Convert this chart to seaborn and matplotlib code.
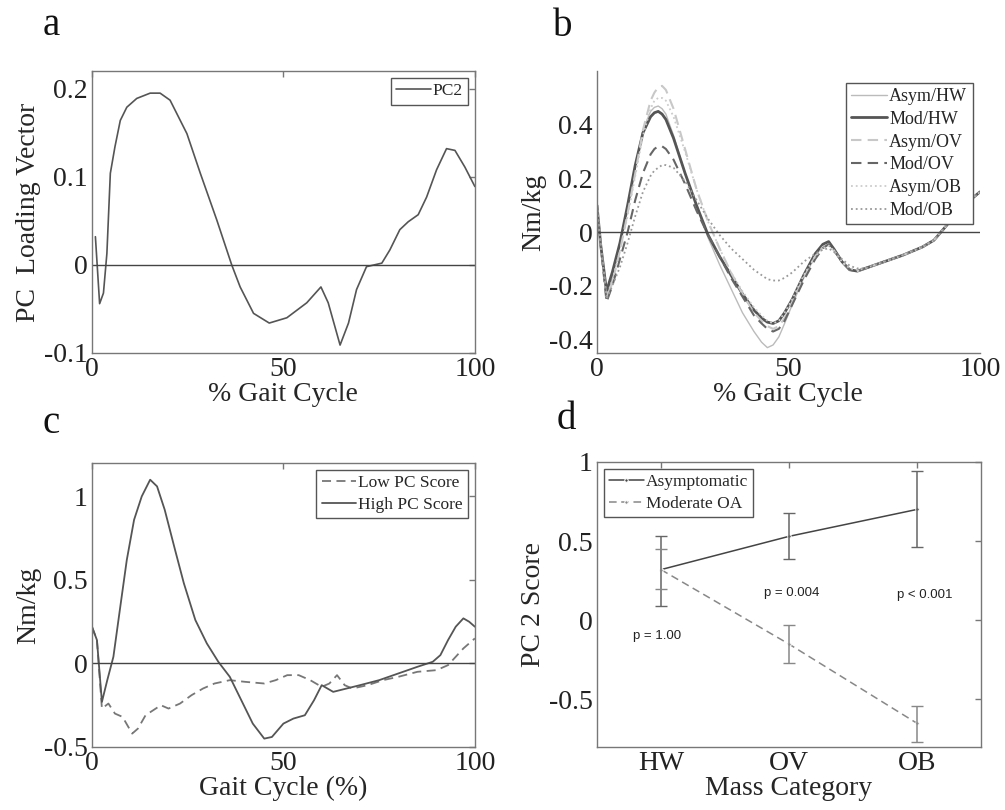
import matplotlib
matplotlib.use("Agg")
import matplotlib.pyplot as plt
import seaborn as sns
import numpy as np

# panel a: PC2 loading vector
xa = [0.9, 2, 3, 3.9, 4.8, 6, 7.4, 9.1, 11.7, 15.2, 17.8, 20.4, 24.8, 28.3, 32.6, 36.5, 38.7,
      42.2, 46.3, 50.9, 56.1, 59.8, 61.7, 64.8, 67, 69.1, 71.7, 75.7, 77.8, 80.4, 82.6, 85.2,
      87.4, 90, 92.6, 94.8, 97.4, 100]
pc2 = [0.032, -0.044, -0.032, 0.013, 0.104, 0.134, 0.164, 0.179, 0.189, 0.195, 0.195, 0.187,
       0.149, 0.104, 0.051, 0.0, -0.025, -0.055, -0.066, -0.060, -0.043, -0.025, -0.043, -0.091,
       -0.066, -0.028, -0.002, 0.002, 0.017, 0.040, 0.049, 0.057, 0.077, 0.108, 0.132, 0.130,
       0.111, 0.089]

# panel b: moment curves by group
xb = [0, 1, 2.5, 4, 6, 8, 10, 12, 14, 15, 16, 17, 18, 20, 23, 26, 29, 32, 35, 38, 41, 43,
      44.5, 46, 47.5, 49, 51, 54, 57, 59, 60.5, 62, 64, 66, 68, 70, 75, 80, 85, 88, 91, 95, 100]
asym_hw = [0.10, -0.05, -0.24, -0.17, -0.05, 0.08, 0.24, 0.38, 0.45, 0.465, 0.47, 0.46, 0.44,
           0.36, 0.22, 0.10, -0.02, -0.12, -0.21, -0.30, -0.37, -0.41, -0.43, -0.42, -0.39,
           -0.34, -0.27, -0.17, -0.09, -0.05, -0.04, -0.07, -0.11, -0.14, -0.145, -0.135,
           -0.11, -0.085, -0.055, -0.03, 0.02, 0.09, 0.15]
mod_hw = [0.10, -0.05, -0.22, -0.15, -0.04, 0.10, 0.25, 0.37, 0.43, 0.445, 0.45, 0.44, 0.42,
          0.35, 0.22, 0.10, -0.01, -0.09, -0.16, -0.23, -0.29, -0.32, -0.335, -0.34, -0.33,
          -0.30, -0.25, -0.16, -0.08, -0.045, -0.035, -0.065, -0.11, -0.14, -0.145, -0.135,
          -0.11, -0.085, -0.055, -0.03, 0.02, 0.09, 0.15]
asym_ov = [0.10, -0.05, -0.25, -0.19, -0.07, 0.07, 0.22, 0.38, 0.49, 0.52, 0.54, 0.545, 0.53,
           0.46, 0.31, 0.16, 0.04, -0.06, -0.15, -0.23, -0.30, -0.33, -0.35, -0.36, -0.35,
           -0.32, -0.26, -0.17, -0.09, -0.055, -0.045, -0.07, -0.11, -0.14, -0.145, -0.135,
           -0.11, -0.085, -0.055, -0.03, 0.02, 0.09, 0.15]
mod_ov = [0.10, -0.05, -0.26, -0.20, -0.10, 0.00, 0.12, 0.22, 0.29, 0.31, 0.32, 0.32, 0.31,
          0.27, 0.18, 0.08, -0.01, -0.09, -0.17, -0.24, -0.31, -0.34, -0.36, -0.37, -0.36,
          -0.33, -0.27, -0.18, -0.10, -0.06, -0.045, -0.07, -0.11, -0.14, -0.145, -0.135,
          -0.11, -0.085, -0.055, -0.03, 0.02, 0.09, 0.15]
asym_ob = [0.10, -0.05, -0.24, -0.18, -0.07, 0.06, 0.21, 0.36, 0.46, 0.49, 0.50, 0.50, 0.49,
           0.43, 0.30, 0.16, 0.04, -0.06, -0.15, -0.22, -0.28, -0.31, -0.33, -0.34, -0.33,
           -0.30, -0.25, -0.16, -0.09, -0.06, -0.05, -0.07, -0.11, -0.135, -0.14, -0.135,
           -0.11, -0.085, -0.055, -0.03, 0.02, 0.09, 0.15]
mod_ob = [0.10, -0.05, -0.25, -0.20, -0.13, -0.04, 0.06, 0.15, 0.21, 0.23, 0.24, 0.25, 0.25,
          0.24, 0.19, 0.12, 0.05, -0.01, -0.06, -0.10, -0.14, -0.16, -0.175, -0.18, -0.18,
          -0.17, -0.15, -0.11, -0.08, -0.065, -0.06, -0.075, -0.10, -0.125, -0.135, -0.135,
          -0.11, -0.085, -0.055, -0.03, 0.02, 0.09, 0.15]

# panel c: low vs high PC score
xc_high = [0, 1.3, 2.6, 4, 5.6, 7.4, 9.1, 11, 13, 15.2, 17, 19, 21.7, 24, 27, 30, 33, 36, 39,
           42, 45, 47, 50, 52.6, 55.6, 58, 60, 63, 70, 75, 80, 85, 89, 91, 93, 95, 97, 98.5, 100]
high_pc = [0.22, 0.14, -0.23, -0.10, 0.04, 0.34, 0.62, 0.86, 1.00, 1.10, 1.06, 0.92, 0.68,
           0.48, 0.26, 0.12, 0.01, -0.08, -0.22, -0.36, -0.45, -0.44, -0.36, -0.33, -0.31,
           -0.22, -0.13, -0.17, -0.13, -0.10, -0.06, -0.02, 0.01, 0.05, 0.14, 0.22, 0.27,
           0.25, 0.22]
xc_low = [0, 1.3, 2.6, 4.3, 6, 8, 10.5, 12, 14, 16, 18, 20, 23, 26, 29, 32, 36, 40, 45, 48,
          51, 54, 57, 60, 62, 64, 66, 68, 72, 76, 80, 85, 90, 93, 95, 97, 100]
low_pc = [0.22, 0.14, -0.27, -0.24, -0.30, -0.32, -0.42, -0.39, -0.31, -0.28, -0.25, -0.27,
          -0.24, -0.19, -0.15, -0.12, -0.10, -0.11, -0.12, -0.10, -0.07, -0.07, -0.10, -0.14,
          -0.12, -0.07, -0.13, -0.15, -0.13, -0.10, -0.08, -0.05, -0.04, -0.01, 0.04, 0.09,
          0.15]

# panel d: PC2 score by mass category
mass_cats = ["HW", "OV", "OB"]
asym_mean = [0.32, 0.53, 0.70]
asym_lo = [0.09, 0.39, 0.46]
asym_hi = [0.53, 0.68, 0.94]
mod_mean = [0.32, -0.15, -0.65]
mod_lo = [0.20, -0.27, -0.77]
mod_hi = [0.45, -0.03, -0.54]
p_labels = ["p = 1.00", "p = 0.004", "p < 0.001"]
p_y = [-0.10, 0.17, 0.16]

sns.set_theme(style="white")
plt.rcParams['font.family'] = ['Liberation Serif', 'DejaVu Serif']
plt.rcParams['axes.edgecolor'] = '#777777'
plt.rcParams['axes.linewidth'] = 1.0

fig = plt.figure(figsize=(10.05, 8.10), dpi=100)
ax_a = fig.add_axes([0.0915, 0.5642, 0.381, 0.348])
ax_b = fig.add_axes([0.594, 0.5642, 0.381, 0.348])
ax_c = fig.add_axes([0.0915, 0.0778, 0.381, 0.3506])
ax_d = fig.add_axes([0.594, 0.0778, 0.382, 0.3519])

tick_fs = 20
lab_fs = 20
leg_kw = dict(frameon=True, fancybox=False, framealpha=1, edgecolor='#555555',
              borderpad=0.3, handlelength=2.0, handletextpad=0.1, labelspacing=0.2,
              borderaxespad=0.4, fontsize=12.5)


def style_box(ax, mirror=True):
    ax.tick_params(direction='in', length=4, width=1, colors='#777777', labelcolor='#222222',
                   labelsize=tick_fs, top=mirror, right=mirror, pad=3)
    for s in ax.spines.values():
        s.set_color('#777777')


# a
sns.lineplot(x=xa, y=pc2, ax=ax_a, color='#555555', lw=1.2, label='PC2')
ax_a.axhline(0, color='#444444', lw=1.0)
ax_a.set_xlim(0, 100)
ax_a.set_ylim(-0.1, 0.22)
ax_a.set_xticks([0, 50, 100])
ax_a.set_yticks([-0.1, 0, 0.1, 0.2])
ax_a.set_yticklabels(['-0.1', '0', '0.1', '0.2'])
ax_a.set_xlabel('% Gait Cycle', fontsize=lab_fs, labelpad=0)
ax_a.set_ylabel('PC  Loading Vector', fontsize=lab_fs, labelpad=2)
style_box(ax_a)
ax_a.legend(loc='upper right', **leg_kw)

# b
b_series = [
    ('Asym/HW', asym_hw, '#bbbbbb', '-', 1.0),
    ('Mod/HW', mod_hw, '#555555', '-', 2.0),
    ('Asym/OV', asym_ov, '#c8c8c8', (0, (5, 3)), 1.5),
    ('Mod/OV', mod_ov, '#666666', (0, (5, 3)), 1.5),
    ('Asym/OB', asym_ob, '#cccccc', ':', 1.3),
    ('Mod/OB', mod_ob, '#999999', ':', 1.3),
]
for name, vals, col, ls, lw in b_series:
    sns.lineplot(x=xb, y=vals, ax=ax_b, color=col, linestyle=ls, lw=lw, label=name)
ax_b.axhline(0, color='#444444', lw=1.0)
ax_b.set_xlim(0, 100)
ax_b.set_ylim(-0.45, 0.6)
ax_b.set_xticks([0, 50, 100])
ax_b.set_yticks([-0.4, -0.2, 0, 0.2, 0.4])
ax_b.set_yticklabels(['-0.4', '-0.2', '0', '0.2', '0.4'])
ax_b.set_xlabel('% Gait Cycle', fontsize=lab_fs, labelpad=0)
ax_b.set_ylabel('Nm/kg', fontsize=lab_fs, labelpad=2)
style_box(ax_b, mirror=False)
ax_b.spines['top'].set_visible(False)
ax_b.spines['right'].set_visible(False)
leg_b = dict(leg_kw, labelspacing=0.32, fontsize=13)
ax_b.legend(loc='upper right', bbox_to_anchor=(1.0, 0.985), **leg_b)

# c
sns.lineplot(x=xc_low, y=low_pc, ax=ax_c, color='#777777', linestyle=(0, (5, 3)), lw=1.3,
             label='Low PC Score')
sns.lineplot(x=xc_high, y=high_pc, ax=ax_c, color='#555555', lw=1.3, label='High PC Score')
ax_c.axhline(0, color='#444444', lw=1.0)
ax_c.set_xlim(0, 100)
ax_c.set_ylim(-0.5, 1.2)
ax_c.set_xticks([0, 50, 100])
ax_c.set_yticks([-0.5, 0, 0.5, 1])
ax_c.set_yticklabels(['-0.5', '0', '0.5', '1'])
ax_c.set_xlabel('Gait Cycle (%)', fontsize=lab_fs, labelpad=0)
ax_c.set_ylabel('Nm/kg', fontsize=lab_fs, labelpad=2)
style_box(ax_c)
ax_c.legend(loc='upper right', **dict(leg_kw, labelspacing=0.3))

# d
pos = np.arange(1, len(mass_cats) + 1)
sns.lineplot(x=pos, y=asym_mean, ax=ax_d, color='#444444', lw=1.1, marker='.', markersize=5,
             label='Asymptomatic')
sns.lineplot(x=pos, y=mod_mean, ax=ax_d, color='#888888', lw=1.1, linestyle=(0, (5, 3)),
             marker='.', markersize=5, label='Moderate OA')
ax_d.errorbar(pos, asym_mean,
              yerr=[np.subtract(asym_mean, asym_lo), np.subtract(asym_hi, asym_mean)],
              fmt='none', ecolor='#666666', elinewidth=1.1, capsize=4)
ax_d.errorbar(pos, mod_mean,
              yerr=[np.subtract(mod_mean, mod_lo), np.subtract(mod_hi, mod_mean)],
              fmt='none', ecolor='#888888', elinewidth=1.1, capsize=4)
for xp, dx, lab, yp in zip(pos, [-0.03, 0.02, 0.06], p_labels, p_y):
    ax_d.text(xp + dx, yp, lab, fontsize=9.5, family=['Liberation Sans', 'DejaVu Sans'],
              ha='center', va='center', color='#222222')
ax_d.set_xlim(0.5, 3.5)
ax_d.set_ylim(-0.8, 1.0)
ax_d.set_xticks(pos)
ax_d.set_xticklabels(mass_cats)
ax_d.set_yticks([-0.5, 0, 0.5, 1])
ax_d.set_yticklabels(['-0.5', '0', '0.5', '1'])
ax_d.set_xlabel('Mass Category', fontsize=lab_fs, labelpad=0)
ax_d.set_ylabel('PC 2 Score', fontsize=lab_fs, labelpad=2)
style_box(ax_d)
ax_d.legend(loc='upper left', **dict(leg_kw, labelspacing=0.3))

# panel letters
for lbl, xx, yy in [('a', 0.042, 0.957), ('b', 0.550, 0.955), ('c', 0.042, 0.466), ('d', 0.554, 0.47)]:
    fig.text(xx, yy, lbl, fontsize=28, va='baseline', ha='left', color='#111111')

fig.savefig('out.png', dpi=100)
